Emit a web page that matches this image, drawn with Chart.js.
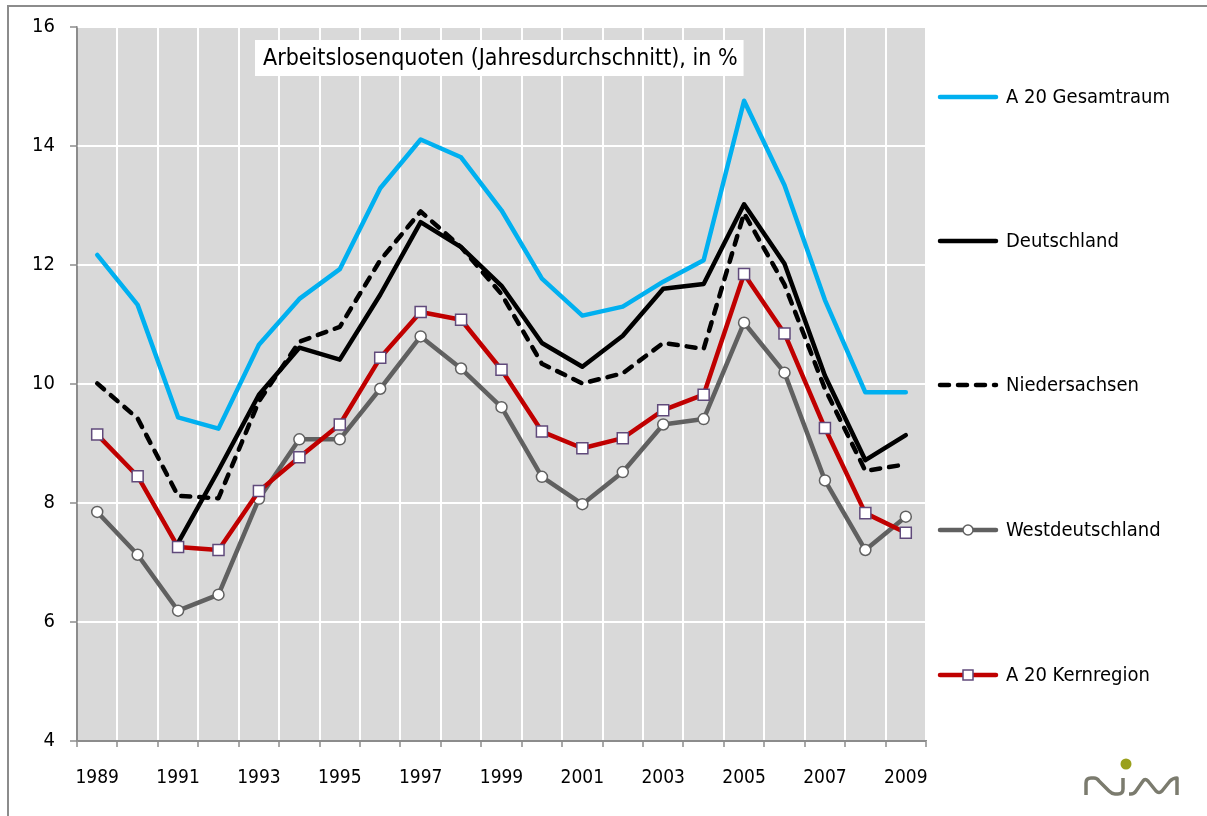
<!DOCTYPE html>
<html>
<head>
<meta charset="utf-8">
<script src="https://cdn.jsdelivr.net/npm/chart.js@4.4.1/dist/chart.umd.min.js"></script>
<style>
html,body{margin:0;padding:0;background:#fff;}
#wrap{width:1207px;height:816px;position:relative;}
</style>
</head>
<body>
<div id="wrap"><canvas id="c"></canvas></div>
<script>
const years = ['1989','1990','1991','1992','1993','1994','1995','1996','1997','1998','1999','2000','2001','2002','2003','2004','2005','2006','2007','2008','2009'];
const shownYears = ['1989','1991','1993','1995','1997','1999','2001','2003','2005','2007','2009'];
const yTickValues = [4, 6, 8, 10, 12, 14, 16];

const gesamtraum    = [12.17, 11.33, 9.44, 9.25, 10.66, 11.43, 11.93, 13.29, 14.11, 13.81, 12.92, 11.77, 11.15, 11.30, 11.72, 12.08, 14.76, 13.34, 11.41, 9.86, 9.86];
const deutschland   = [null, null, 7.33, 8.55, 9.82, 10.61, 10.41, 11.50, 12.72, 12.30, 11.65, 10.69, 10.29, 10.81, 11.60, 11.68, 13.02, 12.02, 10.14, 8.72, 9.14];
const niedersachsen = [10.01, 9.42, 8.12, 8.08, 9.71, 10.71, 10.96, 12.08, 12.90, 12.30, 11.51, 10.34, 10.01, 10.18, 10.69, 10.59, 12.87, 11.67, 9.92, 8.54, 8.65];
const westdeutschland = [7.85, 7.13, 6.19, 6.46, 8.07, 9.07, 9.07, 9.92, 10.80, 10.26, 9.61, 8.44, 7.98, 8.52, 9.32, 9.41, 11.03, 10.19, 8.38, 7.21, 7.77];
const kernregion    = [9.15, 8.45, 7.26, 7.21, 8.20, 8.77, 9.32, 10.44, 11.21, 11.08, 10.24, 9.20, 8.92, 9.09, 9.56, 9.82, 11.85, 10.85, 9.26, 7.83, 7.50];

const seriesNames = ['A 20 Gesamtraum', 'Deutschland', 'Niedersachsen', 'Westdeutschland', 'A 20 Kernregion'];
const titleText = 'Arbeitslosenquoten (Jahresdurchschnitt), in %';

const FONT = "'DejaVu Sans Condensed', 'DejaVu Sans', sans-serif";
const AXIS_GRAY = '#8c8c8c';

const bgPlugin = {
  id: 'bg',
  beforeDraw(chart) {
    const {ctx, chartArea: a} = chart;
    ctx.save();
    ctx.fillStyle = '#ffffff';
    ctx.fillRect(0, 0, chart.width, chart.height);
    ctx.strokeStyle = AXIS_GRAY;
    ctx.lineWidth = 2;
    ctx.strokeRect(8, 6, chart.width + 20, chart.height + 20);
    ctx.fillStyle = '#d9d9d9';
    ctx.fillRect(a.left, a.top, a.right - a.left, a.bottom - a.top);
    ctx.restore();
  },
  beforeDatasetsDraw(chart) {
    const ctx = chart.ctx;
    ctx.save();
    ctx.font = '23px ' + FONT;
    const w = ctx.measureText(titleText).width;
    const x0 = 255, y0 = 40, h = 36;
    ctx.fillStyle = '#ffffff';
    ctx.fillRect(x0, y0, w + 14, h);
    ctx.fillStyle = '#000000';
    ctx.textBaseline = 'middle';
    ctx.textAlign = 'left';
    ctx.fillText(titleText, x0 + 8, y0 + h / 2 + 1);
    ctx.restore();
  },
  afterDraw(chart) {
    const ctx = chart.ctx;
    ctx.save();
    // legend
    const ys = [97, 241, 385, 530, 675];
    chart.data.datasets.forEach((ds, i) => {
      const y = ys[i];
      ctx.beginPath();
      ctx.strokeStyle = ds.borderColor;
      ctx.lineWidth = ds.borderWidth;
      ctx.lineCap = 'round';
      ctx.setLineDash(ds.borderDash || []);
      ctx.moveTo(940, y);
      ctx.lineTo(996, y);
      ctx.stroke();
      ctx.setLineDash([]);
      if (ds.pointRadius > 0) {
        ctx.fillStyle = ds.pointBackgroundColor;
        ctx.strokeStyle = ds.pointBorderColor;
        ctx.lineWidth = ds.pointBorderWidth;
        ctx.beginPath();
        if (ds.pointStyle === 'circle') {
          ctx.arc(968, y, 5, 0, Math.PI * 2);
        } else {
          ctx.rect(963, y - 5, 10, 10);
        }
        ctx.fill();
        ctx.stroke();
      }
      ctx.fillStyle = '#000000';
      ctx.font = '20px ' + FONT;
      ctx.textBaseline = 'middle';
      ctx.textAlign = 'left';
      ctx.fillText(ds.label, 1006, y + 1);
    });
    // logo
    ctx.fillStyle = '#9aa01c';
    ctx.beginPath();
    ctx.arc(1126, 764, 5.5, 0, Math.PI * 2);
    ctx.fill();
    ctx.strokeStyle = '#7b7b6e';
    ctx.lineWidth = 3.5;
    ctx.lineCap = 'butt';
    ctx.lineJoin = 'round';
    ctx.beginPath();
    ctx.moveTo(1086, 795);
    ctx.lineTo(1086, 783);
    ctx.quadraticCurveTo(1086, 778, 1091, 778);
    ctx.lineTo(1094, 778);
    ctx.quadraticCurveTo(1097, 778, 1099, 781);
    ctx.lineTo(1109, 791);
    ctx.quadraticCurveTo(1112, 794, 1115, 794);
    ctx.lineTo(1118, 794);
    ctx.quadraticCurveTo(1123, 794, 1123, 789);
    ctx.lineTo(1123, 778);
    ctx.stroke();
    ctx.beginPath();
    ctx.moveTo(1129, 794);
    ctx.lineTo(1131, 794);
    ctx.quadraticCurveTo(1134, 794, 1136, 791);
    ctx.lineTo(1143, 781);
    ctx.quadraticCurveTo(1145, 778, 1148, 781);
    ctx.lineTo(1156, 791);
    ctx.quadraticCurveTo(1159, 794, 1162, 791);
    ctx.lineTo(1170, 781);
    ctx.quadraticCurveTo(1173, 778, 1177, 778);
    ctx.lineTo(1177, 795);
    ctx.stroke();
    ctx.restore();
  }
};

const chart = new Chart(document.getElementById('c'), {
  type: 'line',
  data: {
    labels: years,
    datasets: [
      { label: seriesNames[0], data: gesamtraum, borderColor: '#00b0f0', borderWidth: 4.5, pointRadius: 0, order: 4, tension: 0 },
      { label: seriesNames[1], data: deutschland, borderColor: '#000000', borderWidth: 4.5, pointRadius: 0, order: 2, tension: 0 },
      { label: seriesNames[2], data: niedersachsen, borderColor: '#000000', borderWidth: 4.5, borderDash: [9, 9], borderCapStyle: 'round', pointRadius: 0, order: 3, tension: 0 },
      { label: seriesNames[3], data: westdeutschland, borderColor: '#606060', borderWidth: 4.5, pointStyle: 'circle', pointRadius: 5.5, pointBackgroundColor: '#ffffff', pointBorderColor: '#606060', pointBorderWidth: 1.5, order: 1, tension: 0 },
      { label: seriesNames[4], data: kernregion, borderColor: '#c00000', borderWidth: 4.5, pointStyle: 'rect', pointRadius: 7.8, pointBackgroundColor: '#ffffff', pointBorderColor: '#604a7b', pointBorderWidth: 1.5, order: 0, tension: 0 }
    ]
  },
  options: {
    responsive: true,
    maintainAspectRatio: false,
    animation: false,
    events: [],
    layout: { padding: { top: 24, right: 281, bottom: 0, left: 0 } },
    plugins: { legend: { display: false }, tooltip: { enabled: false }, title: { display: false } },
    elements: { line: { borderJoinStyle: 'round', borderCapStyle: 'round' } },
    scales: {
      x: {
        type: 'category',
        offset: true,
        afterFit(s) { s.height = 75; },
        grid: {
          offset: true,
          color: (c) => c.index === 0 ? AXIS_GRAY : '#ffffff',
          lineWidth: 2,
          drawTicks: true,
          tickLength: 6,
          tickColor: AXIS_GRAY,
          tickWidth: 1.5
        },
        border: { display: true, color: AXIS_GRAY, width: 1.5 },
        ticks: {
          autoSkip: false,
          maxRotation: 0,
          minRotation: 0,
          padding: 20,
          color: '#000000',
          font: { family: FONT, size: 19 },
          callback: function(v, i) { const l = this.getLabelForValue(v); return shownYears.includes(l) ? l : ''; }
        }
      },
      y: {
        min: 4,
        max: 16,
        afterFit(s) { s.width = 77; },
        afterBuildTicks(s) { s.ticks = yTickValues.map(v => ({ value: v })); },
        grid: {
          color: (c) => (c.tick && c.tick.value === 4) ? AXIS_GRAY : '#ffffff',
          lineWidth: 2,
          drawTicks: true,
          tickLength: 7,
          tickColor: AXIS_GRAY,
          tickWidth: 1.5
        },
        border: { display: true, color: AXIS_GRAY, width: 1.5 },
        ticks: {
          stepSize: 2,
          padding: 15,
          color: '#000000',
          font: { family: FONT, size: 20 }
        }
      }
    }
  },
  plugins: [bgPlugin]
});
</script>
</body>
</html>
